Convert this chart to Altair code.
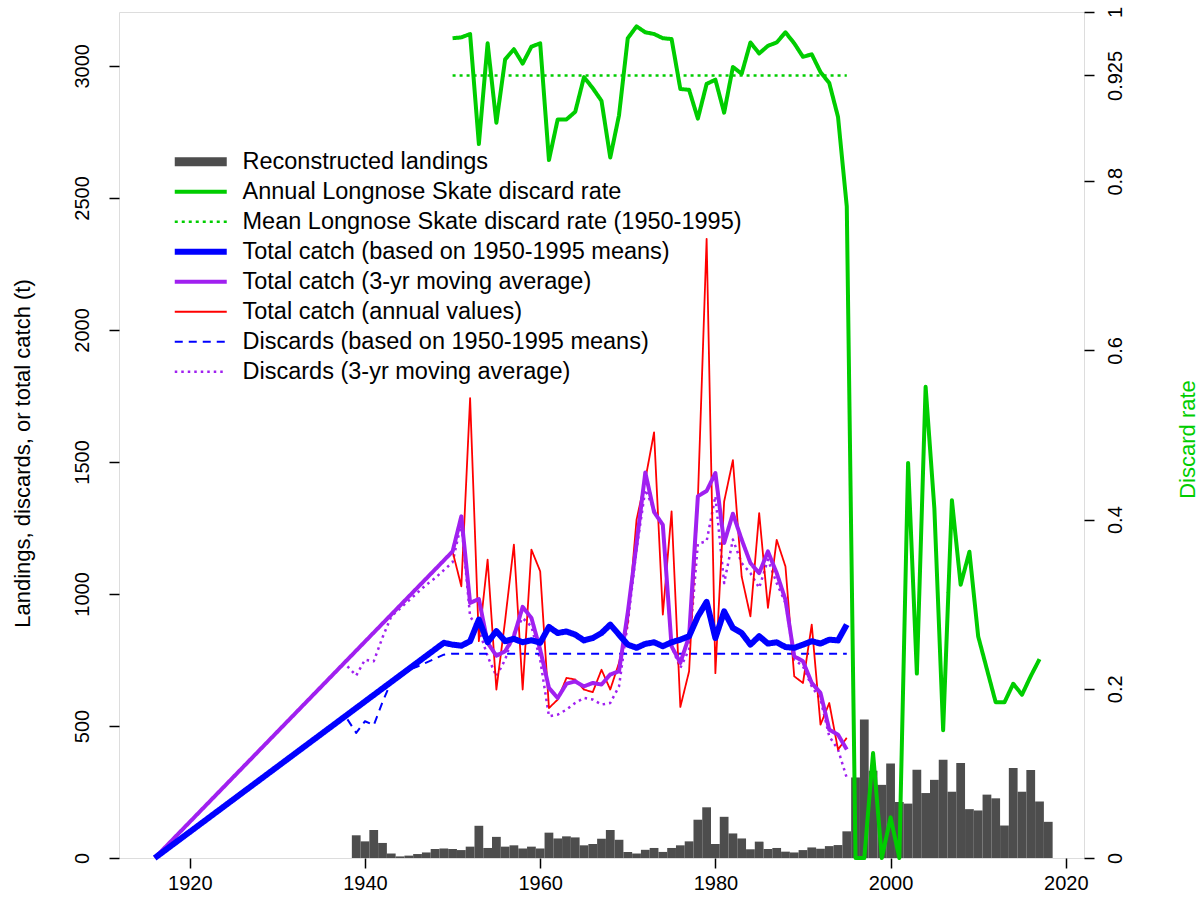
import altair as alt
import pandas as pd

FONT = "Liberation Sans"

# ---------------- data ----------------
landing_years = list(range(1939, 2019))
landings = [86, 63, 106, 57, 17, 6, 9, 15, 21, 34,
            36, 34, 30, 43, 122, 38, 80, 43, 48, 36,
            43, 36, 96, 74, 82, 78, 48, 53, 73, 106,
            69, 23, 17, 31, 38, 23, 38, 48, 63, 145,
            192, 53, 156, 93, 74, 33, 62, 34, 38, 24,
            21, 30, 40, 35, 45, 49, 101, 305, 525, 330,
            277, 358, 212, 206, 334, 246, 296, 372, 251, 360,
            185, 180, 240, 226, 123, 341, 251, 333, 214, 137]

catch_mean_years = [1916] + list(range(1949, 1996))
catch_mean = [0,
              815, 808, 804, 821, 903, 817, 859, 821, 830, 817,
              825, 815, 875, 852, 858, 846, 824, 833, 852, 884,
              846, 808, 796, 811, 817, 802, 817, 827, 840, 915,
              970, 833, 934, 871, 852, 808, 840, 812, 817, 799,
              796, 808, 821, 812, 827, 824, 884]

catch_ma_years = [1916] + list(range(1950, 1996))
catch_ma = [0,
            1161, 1294, 966, 981, 815, 766, 783, 840, 951, 909,
            789, 644, 606, 660, 669, 650, 663, 657, 695, 707,
            930, 1190, 1460, 1310, 1262, 802, 739, 840, 1370, 1390,
            1458, 1193, 1304, 1206, 1117, 1079, 1161, 1079, 978, 764,
            745, 663, 625, 486, 467, 411]

annual_years = list(range(1950, 1996))
catch_annual = [1161, 1029, 1742, 821, 1130, 638, 900, 1187, 638, 1168,
                1086, 568, 600, 682, 676, 638, 628, 713, 638, 739,
                890, 1281, 1433, 1612, 922, 1313, 572, 707, 1357, 2345,
                700, 1350, 1507, 1066, 915, 1306, 947, 1205, 1104, 688,
                663, 884, 505, 587, 411, 455]

disc_years = list(range(1938, 1996))
disc_mean = [525, 474, 518, 503, 590, 669, 695, 712, 725, 740, 755, 770,
             774, 774, 774, 774, 774, 774, 774, 774, 774, 774,
             774, 774, 774, 774, 774, 774, 774, 774, 774, 774,
             774, 774, 774, 774, 774, 774, 774, 774, 774, 774,
             774, 774, 774, 774, 774, 774, 774, 774, 774, 774,
             774, 774, 774, 774, 774, 774]
disc_ma = [726, 691, 751, 745, 835, 915, 945, 975, 1005, 1035, 1060, 1090,
           1120, 1269, 915, 865, 764, 688, 751, 852, 909, 877,
           751, 537, 543, 562, 587, 606, 600, 581, 587, 650,
           890, 1168, 1395, 1319, 1256, 800, 720, 790, 1190, 1200,
           1370, 1041, 1206, 1117, 1079, 1023, 1130, 1041, 966, 751,
           726, 650, 600, 461, 411, 303]

rate_years = list(range(1950, 2018))
rate = [0.969, 0.970, 0.974, 0.844, 0.963, 0.869, 0.944, 0.956, 0.939, 0.959,
        0.963, 0.825, 0.873, 0.873, 0.882, 0.923, 0.910, 0.895, 0.828, 0.878,
        0.969, 0.983, 0.976, 0.974, 0.969, 0.968, 0.909, 0.908, 0.874, 0.915,
        0.920, 0.881, 0.935, 0.927, 0.964, 0.951, 0.960, 0.964, 0.976, 0.963,
        0.947, 0.950, 0.929, 0.916, 0.876, 0.770, 0.0, 0.0, 0.124, 0.0,
        0.048, 0.0, 0.467, 0.218, 0.557, 0.413, 0.151, 0.423, 0.323, 0.362,
        0.262, 0.223, 0.184, 0.184, 0.206, 0.193, 0.215, 0.235]

mean_rate_years = [1950, 1995]
mean_rate = [0.925, 0.925]

series_names = [
    "Reconstructed landings",
    "Annual Longnose Skate discard rate",
    "Mean Longnose Skate discard rate (1950-1995)",
    "Total catch (based on 1950-1995 means)",
    "Total catch (3-yr moving average)",
    "Total catch (annual values)",
    "Discards (based on 1950-1995 means)",
    "Discards (3-yr moving average)",
]
series_colors = ["#4d4d4d", "#00cd00", "#00cd00", "#0000ff", "#a020f0", "#ff0000", "#0000ff", "#a020f0"]
series_dash = [[1, 0], [1, 0], [3, 4], [1, 0], [1, 0], [1, 0], [8, 6], [2.5, 4]]
series_width = [9, 4, 2.5, 6, 4, 1.8, 2, 2.5]

x_ticks = [1920, 1940, 1960, 1980, 2000, 2020]
left_ticks = [0, 500, 1000, 1500, 2000, 2500, 3000]
right_ticks = [0, 0.2, 0.4, 0.6, 0.8, 0.925, 1]


def frame(name, years, values, field="value"):
    return pd.DataFrame({"year": years, field: values, "series": name})


# ---------------- encodings ----------------
x_axis = alt.Axis(values=x_ticks, format="d", tickSize=10, tickWidth=1.5, tickColor="black",
                  labelFontSize=20, labelFont=FONT, labelColor="black", labelPadding=5,
                  labelFlush=False, domain=False, grid=False, title=None)
x_scale = alt.Scale(domain=[1911.92, 2022.08], nice=False, zero=False)


def xenc(field):
    return alt.X(f"{field}:Q", scale=x_scale, axis=x_axis, title=None)


yl_scale = alt.Scale(domain=[0, 3204], nice=False, zero=True)
yl = alt.Y("value:Q", scale=yl_scale,
           axis=alt.Axis(values=left_ticks, format="d", orient="left", tickSize=10, tickWidth=1.5,
                         tickColor="black", labelFontSize=20, labelFont=FONT, labelColor="black",
                         labelAngle=270, labelAlign="center", labelBaseline="alphabetic",
                         labelPadding=21, labelFlush=False, labelOverlap=False,
                         domain=False, grid=False,
                         title="Landings, discards, or total catch (t)",
                         titleFont=FONT, titleFontSize=22, titleFontWeight="normal",
                         titleColor="black", titleAngle=270, titleAlign="center",
                         titleBaseline="middle", titleX=-97, titleY=441))

yr = alt.Y("rate:Q",
           scale=alt.Scale(domain=[0, 1], nice=False, zero=True),
           axis=alt.Axis(values=right_ticks, format=".3~f", orient="right", tickSize=10, tickWidth=1.5,
                         tickColor="black", labelFontSize=20, labelFont=FONT, labelColor="black",
                         labelAngle=270, labelAlign="center", labelBaseline="top",
                         labelPadding=11, labelFlush=False, labelOverlap=False,
                         domain=False, grid=False,
                         title="Discard rate",
                         titleFont=FONT, titleFontSize=22, titleFontWeight="normal",
                         titleColor="#00cd00", titleAngle=270, titleAlign="center",
                         titleBaseline="middle", titleX=103, titleY=427))

leg = alt.Legend(title=None, orient="none", legendX=48, legendY=138, direction="vertical",
                 symbolType="M-1,0L12,0", symbolSize=64, labelFontSize=23.5, labelFont=FONT,
                 labelColor="black", labelOffset=52, labelLimit=900, rowPadding=-1.4,
                 gridAlign="all", padding=0)

color = alt.Color("series:N", scale=alt.Scale(domain=series_names, range=series_colors), legend=leg)
dash = alt.StrokeDash("series:N", scale=alt.Scale(type="ordinal", domain=series_names, range=series_dash),
                      legend=leg)
width = alt.StrokeWidth("series:N", scale=alt.Scale(type="ordinal", domain=series_names, range=series_width),
                        legend=leg)

# ---------------- layers ----------------
bars = alt.Chart(frame(series_names[0], landing_years, landings)).transform_calculate(
    x0="datum.year - 0.5", x1="datum.year + 0.5", base="0"
).mark_bar(color="#4d4d4d", strokeWidth=0).encode(
    x=xenc("x0"), x2=alt.X2("x1"), y=yl, y2=alt.Y2("base:Q")
)


def left_line(name, years, values):
    return alt.Chart(frame(name, years, values)).mark_line(strokeJoin="round").encode(
        x=xenc("year"), y=yl, color=color, strokeDash=dash, strokeWidth=width
    )


l_disc_ma = left_line(series_names[7], disc_years, disc_ma)
l_disc_mean = left_line(series_names[6], disc_years, disc_mean)
l_annual = left_line(series_names[5], annual_years, catch_annual)
l_ma = left_line(series_names[4], catch_ma_years, catch_ma)
l_mean = left_line(series_names[3], catch_mean_years, catch_mean)


def right_line(name, years, values):
    return alt.Chart(frame(name, years, values, "rate")).mark_line(strokeJoin="round").encode(
        x=xenc("year"), y=yr, color=color, strokeDash=dash, strokeWidth=width
    )


r_mean = right_line(series_names[2], mean_rate_years, mean_rate)
r_rate = right_line(series_names[1], rate_years, rate)

left = alt.layer(bars, l_disc_ma, l_disc_mean, l_annual, l_ma, l_mean)
right = alt.layer(r_mean, r_rate)

chart = alt.layer(left, right).resolve_scale(y="independent").properties(
    width=965, height=846,
    autosize=alt.AutoSizeParams(type="none"),
    padding={"left": 119, "top": 12, "right": 116, "bottom": 61},
    background="white",
).configure_view(stroke="black", strokeWidth=1.5).configure(font=FONT)

chart.save("out.html", embed_options={"renderer": "svg", "actions": False})
